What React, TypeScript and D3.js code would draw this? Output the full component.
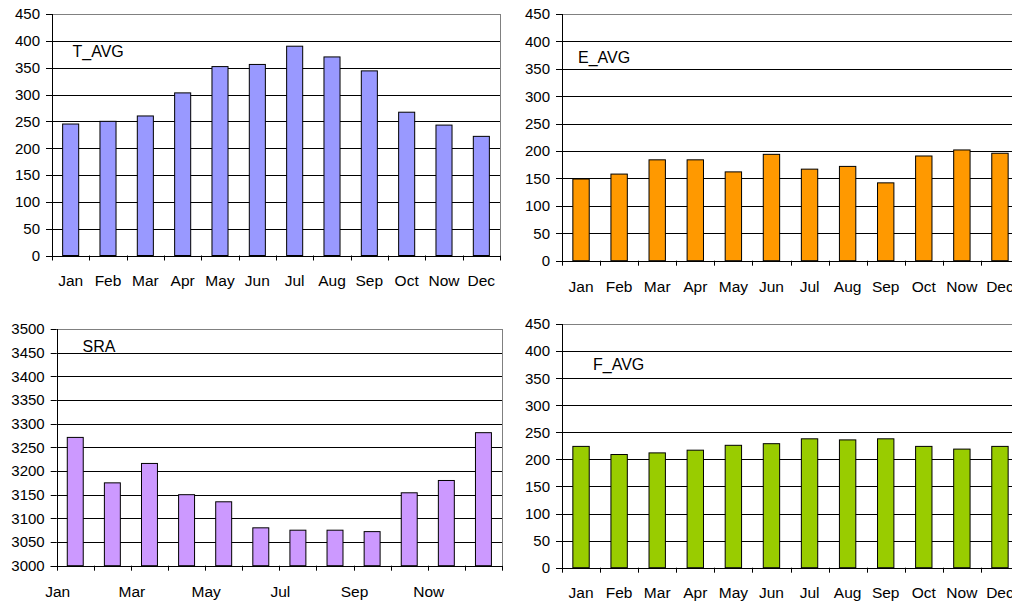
import React from "react";
import * as d3 from "d3";

const months = ["Jan", "Feb", "Mar", "Apr", "May", "Jun", "Jul", "Aug", "Sep", "Oct", "Now", "Dec"];
const tAvg = [245, 250, 260, 303, 352, 356, 390, 370, 344, 267, 243, 222];
const eAvg = [149, 158, 184, 184, 162, 194, 167, 172, 142, 191, 202, 196];
const sra = [3271, 3175, 3216, 3150, 3135, 3080, 3075, 3075, 3072, 3154, 3180, 3281];
const fAvg = [224, 209, 212, 217, 226, 229, 238, 236, 238, 224, 219, 224];
const avgTicks = [0, 50, 100, 150, 200, 250, 300, 350, 400, 450];
const sraTicks = [3000, 3050, 3100, 3150, 3200, 3250, 3300, 3350, 3400, 3450, 3500];

const FONT = "'Liberation Sans', Arial, Helvetica, sans-serif";
const c = (v: number) => Math.round(v) + 0.5;

type PanelProps = {
  left: number;
  right: number;
  top: number;
  bottom: number;
  ticks: number[];
  values: number[];
  color: string;
  title: string;
  titleX: number;
  titleY: number;
  labelBaseline: number;
  boundaryLabels?: boolean;
};

function Panel(p: PanelProps) {
  const yMin = p.ticks[0];
  const yMax = p.ticks[p.ticks.length - 1];
  const y = d3.scaleLinear().domain([yMin, yMax]).range([p.bottom, p.top]);
  const xCat = d3.scaleBand<string>().domain(months).range([p.left, p.right]).padding(0);
  const xBar = d3
    .scaleBand<string>()
    .domain(months)
    .range([p.left, p.right])
    .paddingInner(0.57)
    .paddingOuter(0.285);
  const step = xCat.step();
  const boundaries = d3.range(months.length + 1).map((i) => p.left + i * step);

  return (
    <g>
      {p.ticks.slice(1, -1).map((t) => (
        <line key={"g" + t} x1={p.left} x2={p.right} y1={c(y(t))} y2={c(y(t))} stroke="#000" strokeWidth={1} />
      ))}
      <line x1={p.left} x2={p.right} y1={c(y(yMax))} y2={c(y(yMax))} stroke="#808080" strokeWidth={1} />
      <line x1={c(p.right)} x2={c(p.right)} y1={y(yMax)} y2={y(yMin)} stroke="#808080" strokeWidth={1} />
      {months.map((m, i) => (
        <rect
          key={"b" + m}
          x={xBar(m)}
          y={y(p.values[i])}
          width={xBar.bandwidth()}
          height={y(yMin) - y(p.values[i])}
          fill={p.color}
          stroke="#000"
          strokeWidth={1}
        />
      ))}
      <line x1={c(p.left)} x2={c(p.left)} y1={y(yMax)} y2={c(y(yMin))} stroke="#000" strokeWidth={1} />
      <line x1={p.left - 6} x2={p.right} y1={c(y(yMin))} y2={c(y(yMin))} stroke="#000" strokeWidth={1} />
      {p.ticks.map((t) => (
        <g key={"yt" + t}>
          <line x1={p.left - 6} x2={p.left} y1={c(y(t))} y2={c(y(t))} stroke="#000" strokeWidth={1} />
          <text
            x={p.left - 12}
            y={y(t)}
            dy="0.36em"
            textAnchor="end"
            fontFamily={FONT}
            fontSize={15}
            fill="#000"
          >
            {t}
          </text>
        </g>
      ))}
      {boundaries.map((bx, i) => (
        <line key={"xt" + i} x1={c(bx)} x2={c(bx)} y1={y(yMin)} y2={y(yMin) + 5} stroke="#000" strokeWidth={1} />
      ))}
      {months.map((m, i) => {
        if (p.boundaryLabels && i % 2 === 1) return null;
        const lx = p.boundaryLabels ? boundaries[i] + 1 : (xCat(m) as number) + step / 2;
        return (
          <text
            key={"xl" + m}
            x={lx}
            y={p.labelBaseline}
            textAnchor="middle"
            fontFamily={FONT}
            fontSize={15.5}
            fill="#000"
          >
            {m}
          </text>
        );
      })}
      <text x={p.titleX} y={p.titleY} fontFamily={FONT} fontSize={16} fill="#000">
        {p.title}
      </text>
    </g>
  );
}

export default function App() {
  return (
    <svg
      width={1012}
      height={603}
      style={{ position: "absolute", left: 0, top: 0, background: "#fff" }}
    >
      <rect x={0} y={0} width={1012} height={603} fill="#fff" />
      <Panel
        left={52}
        right={500}
        top={14}
        bottom={255.5}
        ticks={avgTicks}
        values={tAvg}
        color="#9999FF"
        title="T_AVG"
        titleX={72.5}
        titleY={56.5}
        labelBaseline={285.5}
      />
      <Panel
        left={562}
        right={1019}
        top={14}
        bottom={260.7}
        ticks={avgTicks}
        values={eAvg}
        color="#FF9900"
        title="E_AVG"
        titleX={578}
        titleY={63}
        labelBaseline={291.5}
      />
      <Panel
        left={56.7}
        right={502}
        top={329}
        bottom={565.7}
        ticks={sraTicks}
        values={sra}
        color="#CC99FF"
        title="SRA"
        titleX={82.5}
        titleY={352}
        labelBaseline={596.5}
        boundaryLabels
      />
      <Panel
        left={562}
        right={1019}
        top={324}
        bottom={567.7}
        ticks={avgTicks}
        values={fAvg}
        color="#99CC00"
        title="F_AVG"
        titleX={593}
        titleY={370}
        labelBaseline={597.5}
      />
    </svg>
  );
}
